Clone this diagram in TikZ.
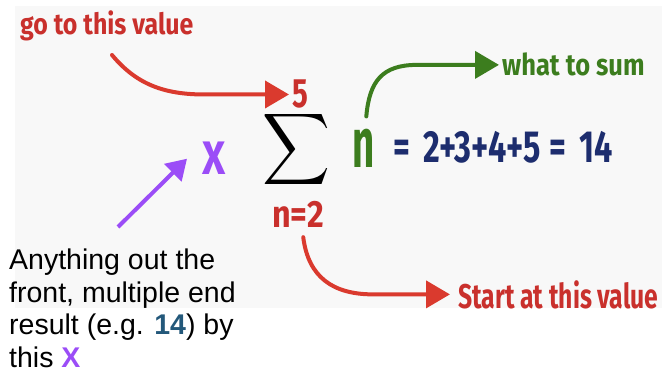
\documentclass[tikz,border=0pt]{standalone}
\usepackage{fontspec}
\setmainfont{Liberation Sans}
\newfontfamily\condfont{Fira Sans}[FakeStretch=0.72]
\newfontfamily\labelfont{Fira Sans}[FakeStretch=0.85]
\newfontfamily\narrowfont{Fira Sans}[FakeStretch=0.55]
\usepackage{xcolor}
\usepackage{graphicx}
\usepackage{tikz}
\usetikzlibrary{arrows.meta,calc,positioning}

\definecolor{hintred}{HTML}{C9302C}
\definecolor{arrowred}{HTML}{DA3A2E}
\definecolor{sumgreen}{HTML}{3C7D1E}
\definecolor{sumnavy}{HTML}{1D2D6E}
\definecolor{xpurple}{HTML}{9B4DF7}
\definecolor{tealnum}{HTML}{23587A}
\definecolor{panel}{HTML}{F8F8F8}

\begin{document}
\begin{tikzpicture}[
    x=1pt, y=1pt,
    cond/.style={inner sep=0pt, anchor=base west},
    bigarrow/.style={line width=4pt, line cap=round, -{Triangle[length=24pt,width=27pt]}},
    redarrow/.style={bigarrow, arrowred},
    greenarrow/.style={bigarrow, sumgreen},
    purplearrow/.style={line width=4pt, xpurple, -{Triangle[length=20pt,width=24pt]}},
    note/.style={font=\fontsize{28.5}{32.5}\selectfont, align=left, inner sep=0pt, anchor=north west}
]
\useasboundingbox (0,0) rectangle (662,373);
\fill[panel] (15,65) rectangle (662,367);

% summation and its limits
\node[inner sep=0pt] (sigma) at (296.5,224) {\scalebox{4.7}[5]{$\displaystyle\sum$}};
\node[cond, text=hintred, font=\condfont\bfseries\fontsize{41}{41}\selectfont] (five) at (292,265) {5};
\node[cond, text=hintred, font=\labelfont\bfseries\fontsize{38}{38}\selectfont] (lower) at (272,146) {n=2};
\node[cond, text=sumgreen, font=\narrowfont\bfseries\fontsize{70}{70}\selectfont] (term) at (352,206) {n};
\node[cond, text=sumnavy, font=\condfont\bfseries\fontsize{45}{45}\selectfont] (expansion) at (393,211)
    {=\hspace{13pt}2+3+4+5\hspace{9pt}=\hspace{13pt}14};
\node[cond, text=xpurple, font=\labelfont\bfseries\fontsize{47}{47}\selectfont] (xmul) at (202,198) {X};

% labels
\node[cond, text=hintred, font=\labelfont\bfseries\fontsize{29.3}{29.3}\selectfont] (goto) at (20,338) {go to this value};
\node[cond, text=sumgreen, font=\labelfont\bfseries\fontsize{30}{30}\selectfont] (whatsum) at (502,297) {what to sum};
\node[cond, text=hintred, font=\condfont\bfseries\fontsize{34.3}{34.3}\selectfont] (start) at (458,65) {Start at this value};
\node[note] (note) at (9,124) {Anything out the\\front, multiple end\\result (e.g. {\bfseries\color{tealnum}14}) by\\this {\bfseries\color{xpurple}X}};

% arrows
\coordinate (gostart) at (112,318);
\coordinate (gobend) at ($(five.west)+(-87,0)$);
\draw[redarrow] (gostart) .. controls +(25,-30) and +(-40,0) .. (gobend) -- ([xshift=-3pt]five.west);

\coordinate (sumstart) at ($(term.north)+(3,12)$);
\coordinate (sumbend) at ($(whatsum.west)+(-85,0)$);
\draw[greenarrow] (sumstart) .. controls +(3,35) and +(-35,0) .. (sumbend) -- ([xshift=-3pt]whatsum.west);

\coordinate (lowstart) at ($(lower.south)+(5,-10)$);
\coordinate (lowbend) at ($(start.west)+(-85,0)$);
\draw[redarrow] (lowstart) .. controls +(5,-40) and +(-40,0) .. (lowbend) -- ([xshift=-8pt]start.west);

\coordinate (ptail) at (118,146);
\coordinate (xtip) at ($(xmul.west)+(-15,0)$);
\draw[purplearrow] (ptail) -- (xtip);
\end{tikzpicture}
\end{document}
